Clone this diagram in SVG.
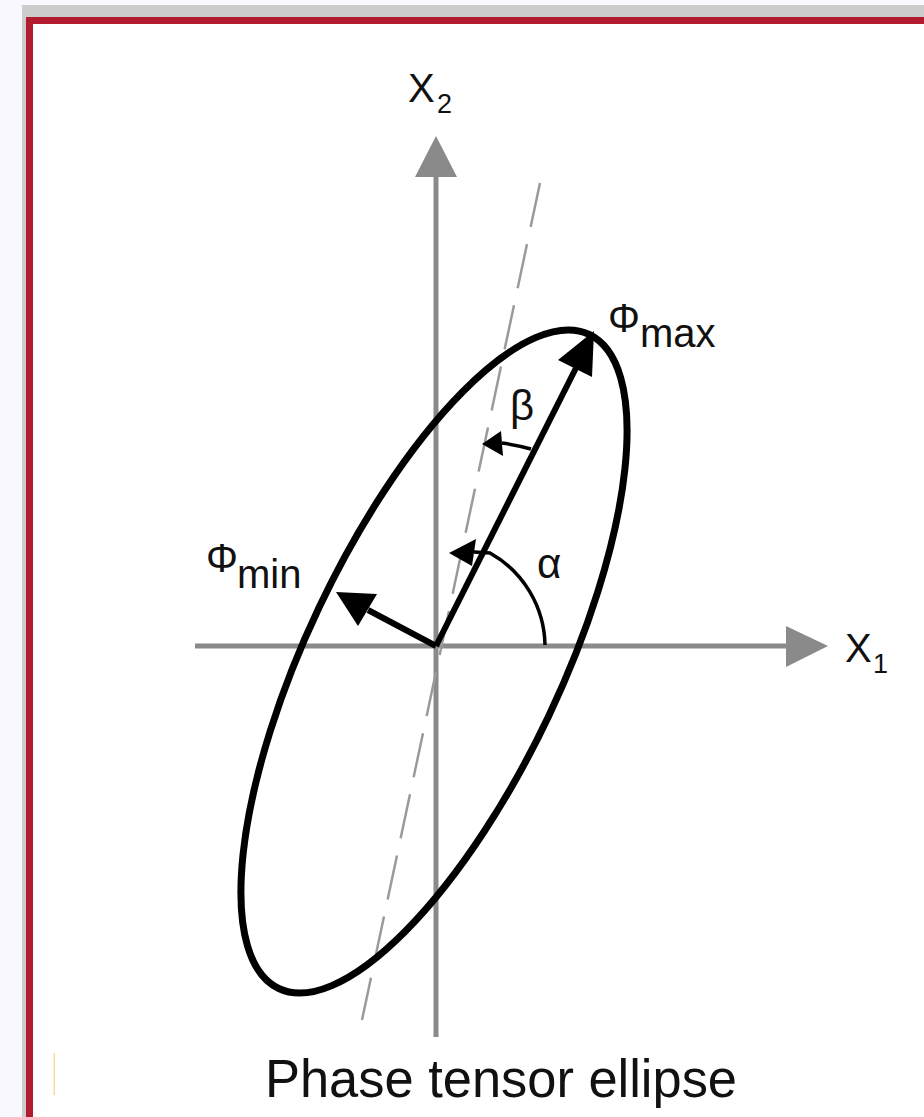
<svg xmlns="http://www.w3.org/2000/svg" width="924" height="1117" viewBox="0 0 924 1117">
  <style>
    .axis { stroke: #8a8a8a; stroke-width: 5; fill: none; }
    .axhead { fill: #8a8a8a; }
    .thick { stroke: #000; stroke-width: 6; fill: none; }
    .thin { stroke: #000; stroke-width: 3.5; fill: none; }
    .head { fill: #000; }
    .dash { stroke: #9a9a9a; stroke-width: 2.5; fill: none; stroke-dasharray: 45 17.5; }
    .lbl { font-family: "Liberation Sans", Arial, sans-serif; fill: #111; }
  </style>
  <!-- frame -->
  <rect x="0" y="0" width="924" height="1117" fill="#f8f8fe"/>
  <rect x="22" y="5" width="902" height="1112" fill="#cccccc"/>
  <rect x="26" y="17" width="898" height="1100" fill="#b31b2e"/>
  <rect x="33" y="24" width="891" height="1093" fill="#ffffff"/>
  <rect x="53.5" y="1053" width="1.5" height="42" fill="#fbd9a4"/>

  <g id="connectors">
    <!-- axes -->
    <g id="axis-x2">
      <line class="axis" x1="436" y1="176" x2="436" y2="1037"/>
      <polygon class="axhead" points="436,136 415,177 457,177"/>
    </g>
    <g id="axis-x1">
      <line class="axis" x1="195" y1="646" x2="788" y2="646"/>
      <polygon class="axhead" points="828,646 786,626 786,667"/>
    </g>
    <!-- dashed reference line -->
    <line id="ref-line" class="dash" x1="540" y1="183" x2="362" y2="1020"/>
    <!-- phi max arrow -->
    <g id="phi-max-arrow">
      <line class="thick" x1="436" y1="646" x2="578" y2="364"/>
      <polygon class="head" points="594,331 592,377 558,360"/>
    </g>
    <!-- phi min arrow -->
    <g id="phi-min-arrow">
      <line class="thick" x1="436" y1="646" x2="368" y2="610"/>
      <polygon class="head" points="336,592 377,594 358,626"/>
    </g>
    <!-- alpha arc -->
    <g id="alpha-arc">
      <path class="thin" d="M 545 645 A 108 108 0 0 0 490 553 L 474 552"/>
      <polygon class="head" points="449,553 476,539 472,566"/>
    </g>
    <!-- beta arc -->
    <g id="beta-arc">
      <path class="thin" d="M 531 449 A 217 217 0 0 0 502 443"/>
      <polygon class="head" points="482,444 501,431 503,456"/>
    </g>
  </g>

  <g id="ellipse">
    <ellipse cx="434" cy="661.5" rx="362" ry="127" transform="rotate(-64.6 434 661.5)" fill="none" stroke="#000" stroke-width="7"/>
  </g>

  <g id="label-x2">
    <text class="lbl" x="408" y="102" font-size="40">X</text>
    <text class="lbl" x="437" y="113" font-size="27">2</text>
  </g>
  <g id="label-x1">
    <text class="lbl" x="845" y="662" font-size="40">X</text>
    <text class="lbl" x="873" y="673" font-size="27">1</text>
  </g>
  <g id="label-phimax">
    <text class="lbl" x="608" y="332" font-size="40">Φ</text>
    <text class="lbl" x="640" y="347" font-size="40">max</text>
  </g>
  <g id="label-phimin">
    <text class="lbl" x="206" y="572" font-size="40">Φ</text>
    <text class="lbl" x="237" y="588" font-size="40">min</text>
  </g>
  <g id="label-alpha">
    <text class="lbl" x="537" y="578" font-size="42">α</text>
  </g>
  <g id="label-beta">
    <text class="lbl" x="510" y="420" font-size="42">β</text>
  </g>
  <g id="title">
    <text class="lbl" x="265" y="1097" font-size="53" textLength="472" lengthAdjust="spacingAndGlyphs">Phase tensor ellipse</text>
  </g>
</svg>
